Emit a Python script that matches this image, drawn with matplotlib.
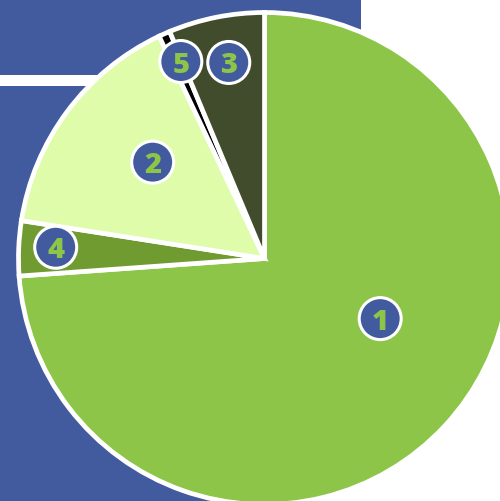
import numpy as np
import matplotlib
matplotlib.use("Agg")
import matplotlib.pyplot as plt
from matplotlib.patches import Rectangle, Circle

# slice data, in clockwise order from 12 o'clock
labels = ["1", "4", "2", "5", "3"]
values = [73.9, 3.6, 15.5, 0.75, 6.3]
colors = ["#8DC548", "#709B30", "#DEFCAA", "#000000", "#414C2D"]

BLUE = "#425A9E"
GREEN = "#8DC548"

# label placement: radial fraction and angle nudge from the wedge middle
label_frac = [0.53, 0.85, 0.60, 0.87, 0.81]
label_shift = [15.5, -0.7, -4.0, -1.0, -1.0]

W, H = 500, 501
fig = plt.figure(figsize=(W / 100, H / 100), dpi=100)
ax = fig.add_axes([0, 0, 1, 1])

# background blue blocks (pixel coords, y measured from top)
ax.add_patch(Rectangle((0, H - 75), 361, 75, color=BLUE, lw=0, zorder=0))
ax.add_patch(Rectangle((0, 0), 270, H - 86, color=BLUE, lw=0, zorder=0))

cx, cy, R = 264.5, H - 258.5, 246
wedges, _ = ax.pie(values, colors=colors, startangle=90, counterclock=False,
                   center=(cx, cy), radius=R, frame=True,
                   wedgeprops=dict(edgecolor="white", linewidth=3.4))
ax.set_xlim(0, W)
ax.set_ylim(0, H)
ax.set_aspect("auto")
ax.axis("off")

for w, lab, fr, sh in zip(wedges, labels, label_frac, label_shift):
    mid = np.deg2rad((w.theta1 + w.theta2) / 2 + sh)
    x = cx + fr * R * np.cos(mid)
    y = cy + fr * R * np.sin(mid)
    ax.add_patch(Circle((x, y), 21, facecolor=BLUE, edgecolor="white",
                        lw=2.2, zorder=5))
    ax.text(x, y, lab, color=GREEN, fontsize=21, fontweight=800,
            family="Open Sans", ha="center", va="center_baseline", zorder=6)

fig.savefig("out.png", dpi=100)
